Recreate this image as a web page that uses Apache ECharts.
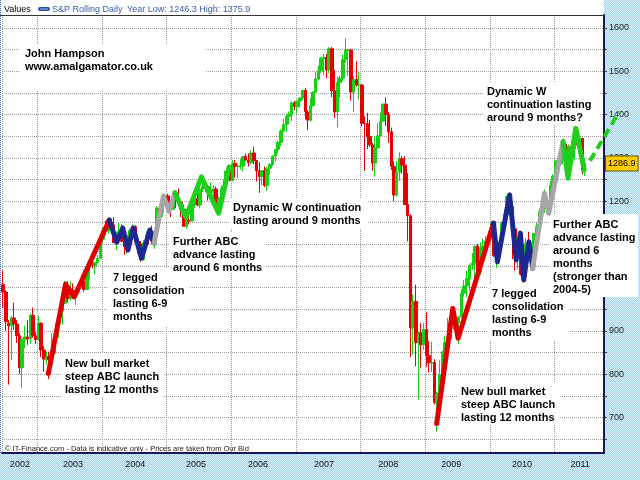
<!DOCTYPE html>
<html><head><meta charset="utf-8">
<script src="https://cdn.jsdelivr.net/npm/echarts@6/dist/echarts.min.js"></script>
<style>
html,body{margin:0;padding:0;}
#c{width:640px;height:480px;background:repeating-conic-gradient(#a3d3e8 0 25%, #dcf1f9 0 50%) 0 0/2px 2px;}
</style></head><body><div id="c"></div>
<script>
// ---- S&P Rolling Daily, half-month bars: [date, open, close, low, high] ----
const sp2002 = [
 ['2002-06-23',1007,990,953,1040],['2002-07-08',990,921,900,994],['2002-07-23',918,912,776,925],
 ['2002-08-08',912,930,833,935],['2002-08-23',930,916,902,965],['2002-09-08',916,889,872,925],
 ['2002-09-23',889,815,800,895],['2002-10-08',815,881,768,885],['2002-10-23',881,886,860,912],
 ['2002-11-08',886,882,868,925],['2002-11-23',882,936,870,941],['2002-12-08',936,889,884,954],
 ['2002-12-23',889,880,870,898]];
const sp2003 = [
 ['2003-01-08',880,918,877,935],['2003-01-23',918,856,840,920],['2003-02-08',856,835,806,865],
 ['2003-02-23',835,841,822,852],['2003-03-08',841,833,789,852],['2003-03-23',833,848,827,895],
 ['2003-04-08',848,885,847,887],['2003-04-23',885,917,878,919],['2003-05-08',917,946,911,947],
 ['2003-05-23',946,964,914,965],['2003-06-08',964,998,963,1015],['2003-06-23',998,975,966,1015],
 ['2003-07-08',975,994,970,1015],['2003-07-23',994,990,974,1010],['2003-08-08',990,990,960,995],
 ['2003-08-23',990,1008,985,1011],['2003-09-08',1008,1014,1005,1030],['2003-09-23',1014,996,990,1040],
 ['2003-10-08',996,1046,995,1053],['2003-10-23',1046,1051,1018,1053],['2003-11-08',1051,1050,1044,1063],
 ['2003-11-23',1050,1058,1031,1060],['2003-12-08',1058,1068,1056,1075],['2003-12-23',1068,1112,1066,1112]];
const sp2004 = [
 ['2004-01-08',1112,1132,1105,1140],['2004-01-23',1132,1131,1122,1155],['2004-02-08',1131,1146,1124,1158],
 ['2004-02-23',1146,1145,1138,1158],['2004-03-08',1145,1104,1103,1163],['2004-03-23',1104,1126,1087,1130],
 ['2004-04-08',1126,1129,1120,1150],['2004-04-23',1129,1107,1106,1146],['2004-05-08',1107,1095,1076,1128],
 ['2004-05-23',1095,1121,1078,1122],['2004-06-08',1121,1132,1119,1137],['2004-06-23',1132,1141,1127,1146],
 ['2004-07-08',1141,1106,1105,1144],['2004-07-23',1106,1101,1079,1108],['2004-08-08',1101,1065,1060,1108],
 ['2004-08-23',1065,1104,1063,1110],['2004-09-08',1104,1121,1100,1130],['2004-09-23',1121,1115,1101,1131],
 ['2004-10-08',1115,1108,1100,1143],['2004-10-23',1108,1130,1090,1131],['2004-11-08',1130,1184,1128,1188],
 ['2004-11-23',1184,1173,1166,1188],['2004-12-08',1173,1205,1163,1206],['2004-12-23',1205,1212,1194,1217]];
const sp2005 = [
 ['2005-01-08',1212,1184,1176,1217],['2005-01-23',1184,1181,1163,1195],['2005-02-08',1181,1210,1180,1212],
 ['2005-02-23',1210,1204,1184,1212],['2005-03-08',1204,1197,1190,1229],['2005-03-23',1197,1181,1163,1200],
 ['2005-04-08',1181,1142,1141,1192],['2005-04-23',1142,1156,1136,1163],['2005-05-08',1156,1154,1146,1178],
 ['2005-05-23',1154,1191,1153,1199],['2005-06-08',1191,1206,1185,1208],['2005-06-23',1206,1191,1188,1219],
 ['2005-07-08',1191,1227,1183,1229],['2005-07-23',1227,1234,1221,1245],['2005-08-08',1234,1233,1222,1245],
 ['2005-08-23',1233,1220,1201,1235],['2005-09-08',1220,1227,1218,1243],['2005-09-23',1227,1228,1205,1237],
 ['2005-10-08',1228,1187,1176,1234],['2005-10-23',1187,1207,1168,1210],['2005-11-08',1207,1229,1200,1237],
 ['2005-11-23',1229,1249,1226,1270],['2005-12-08',1249,1270,1245,1276],['2005-12-23',1270,1248,1246,1275]];
const sp2006 = [
 ['2006-01-08',1248,1287,1245,1295],['2006-01-23',1287,1280,1254,1295],['2006-02-08',1280,1281,1253,1286],
 ['2006-02-23',1281,1281,1273,1297],['2006-03-08',1281,1303,1268,1304],['2006-03-23',1303,1295,1293,1310],
 ['2006-04-08',1295,1289,1280,1310],['2006-04-23',1289,1311,1285,1318],['2006-05-08',1311,1294,1285,1326],
 ['2006-05-23',1294,1270,1245,1295],['2006-06-08',1270,1257,1219,1290],['2006-06-23',1257,1270,1237,1272],
 ['2006-07-08',1270,1236,1232,1280],['2006-07-23',1236,1276,1224,1280],['2006-08-08',1276,1285,1261,1287],
 ['2006-08-23',1285,1304,1281,1306],['2006-09-08',1304,1319,1291,1321],['2006-09-23',1319,1336,1310,1340],
 ['2006-10-08',1336,1362,1327,1366],['2006-10-23',1362,1377,1359,1390],['2006-11-08',1377,1396,1360,1401],
 ['2006-11-23',1396,1400,1377,1407],['2006-12-08',1400,1427,1385,1431],['2006-12-23',1427,1418,1410,1431]];
const sp2007 = [
 ['2007-01-08',1418,1431,1403,1432],['2007-01-23',1431,1438,1416,1441],['2007-02-08',1438,1456,1433,1457],
 ['2007-02-23',1456,1406,1389,1461],['2007-03-08',1406,1387,1364,1410],['2007-03-23',1387,1421,1384,1438],
 ['2007-04-08',1421,1452,1418,1453],['2007-04-23',1452,1482,1450,1498],['2007-05-08',1482,1501,1478,1513],
 ['2007-05-23',1501,1530,1496,1533],['2007-06-08',1530,1532,1490,1540],['2007-06-23',1532,1503,1484,1540],
 ['2007-07-08',1503,1552,1495,1556],['2007-07-23',1552,1455,1440,1556],['2007-08-08',1455,1406,1392,1503],
 ['2007-08-23',1406,1474,1370,1488],['2007-09-08',1474,1484,1439,1490],['2007-09-23',1484,1527,1476,1539],
 ['2007-10-08',1527,1548,1520,1576],['2007-10-23',1548,1549,1489,1552],['2007-11-08',1549,1452,1432,1552],
 ['2007-11-23',1452,1481,1406,1488],['2007-12-08',1481,1468,1464,1523],['2007-12-23',1468,1468,1435,1498]];
const sp2008 = [
 ['2008-01-08',1468,1380,1372,1471],['2008-01-23',1380,1379,1270,1396],['2008-02-08',1379,1349,1320,1404],
 ['2008-02-23',1349,1330,1325,1388],['2008-03-08',1330,1288,1270,1335],['2008-03-23',1288,1323,1256,1350],
 ['2008-04-08',1323,1351,1321,1380],['2008-04-23',1351,1385,1350,1404],['2008-05-08',1385,1424,1384,1426],
 ['2008-05-23',1424,1400,1373,1440],['2008-06-08',1400,1360,1335,1406],['2008-06-23',1360,1280,1272,1370],
 ['2008-07-08',1280,1214,1200,1292],['2008-07-23',1214,1267,1210,1292],['2008-08-08',1267,1298,1247,1313],
 ['2008-08-23',1298,1283,1263,1304],['2008-09-08',1283,1192,1192,1304],['2008-09-23',1192,1166,1107,1265],
 ['2008-10-08',1166,907,839,1170],['2008-10-23',907,968,845,985],['2008-11-08',968,873,818,1007],
 ['2008-11-23',873,896,741,900],['2008-12-08',896,868,815,918],['2008-12-23',868,903,857,919]];
const sp2009 = [
 ['2009-01-08',903,843,817,943],['2009-01-23',843,826,804,877],['2009-02-08',826,827,805,875],
 ['2009-02-23',827,735,730,835],['2009-03-08',735,756,667,760],['2009-03-23',756,798,753,832],
 ['2009-04-08',798,852,783,853],['2009-04-23',852,873,826,888],['2009-05-08',873,882,866,930],
 ['2009-05-23',882,919,879,925],['2009-06-08',919,923,904,956],['2009-06-23',923,919,888,933],
 ['2009-07-08',919,932,869,935],['2009-07-23',932,987,930,996],['2009-08-08',987,1004,979,1018],
 ['2009-08-23',1004,1021,978,1039],['2009-09-08',1021,1052,992,1056],['2009-09-23',1052,1057,1041,1080],
 ['2009-10-08',1057,1096,1020,1097],['2009-10-23',1096,1036,1033,1101],['2009-11-08',1036,1093,1029,1105],
 ['2009-11-23',1093,1096,1085,1113],['2009-12-08',1096,1107,1086,1119],['2009-12-23',1107,1115,1094,1130]];
const sp2010 = [
 ['2010-01-08',1115,1136,1108,1150],['2010-01-23',1136,1074,1071,1150],['2010-02-08',1074,1075,1045,1104],
 ['2010-02-23',1075,1104,1070,1112],['2010-03-08',1104,1150,1100,1153],['2010-03-23',1150,1169,1148,1181],
 ['2010-04-08',1169,1211,1165,1213],['2010-04-23',1211,1187,1181,1220],['2010-05-08',1187,1136,1066,1188],
 ['2010-05-23',1136,1089,1040,1150],['2010-06-08',1089,1115,1042,1116],['2010-06-23',1115,1031,1028,1131],
 ['2010-07-08',1031,1096,1011,1100],['2010-07-23',1096,1102,1056,1115],['2010-08-08',1102,1079,1074,1129],
 ['2010-08-23',1079,1049,1040,1095],['2010-09-08',1049,1125,1047,1126],['2010-09-23',1125,1141,1122,1149],
 ['2010-10-08',1141,1176,1132,1182],['2010-10-23',1176,1183,1160,1196],['2010-11-08',1183,1197,1173,1227],
 ['2010-11-23',1197,1181,1174,1207],['2010-12-08',1181,1236,1173,1246],['2010-12-23',1236,1258,1233,1262]];
const sp2011 = [
 ['2011-01-08',1258,1293,1257,1294],['2011-01-23',1293,1286,1271,1303],['2011-02-08',1286,1328,1285,1332],
 ['2011-02-23',1328,1327,1294,1344],['2011-03-08',1327,1281,1261,1332],['2011-03-23',1281,1326,1249,1331],
 ['2011-04-08',1326,1320,1309,1339],['2011-04-23',1320,1364,1294,1365],['2011-05-08',1364,1338,1329,1371],
 ['2011-05-23',1338,1345,1311,1346],['2011-06-08',1345,1271,1262,1346],['2011-06-19',1271,1287,1258,1298]];
const lastPrice = 1286.9;

// ---- hand-drawn wave annotations: [date, level] ----
const abcLaunch2003 = [['2003-03-05',802],['2003-06-10',1008],['2003-07-30',979],['2004-02-12',1156]];
const consol2004 = [['2004-02-12',1156],['2004-03-25',1105],['2004-04-28',1138],['2004-05-27',1087],
  ['2004-06-26',1138],['2004-08-12',1068],['2004-09-28',1133],['2004-10-22',1103]];
const advance2004 = [['2004-10-22',1103],['2004-12-14',1212],['2005-01-14',1177],['2005-02-17',1219]];
const wave2005 = [['2005-02-17',1219],['2005-04-20',1163],['2005-07-16',1256],['2005-10-22',1172],['2005-12-20',1279]];
const abcLaunch2009 = [['2009-03-06',686],['2009-06-05',952],['2009-07-05',883],['2010-01-21',1149]];
const consol2010 = [['2010-01-21',1149],['2010-02-12',1060],['2010-04-22',1214],['2010-05-29',1064],
  ['2010-06-22',1126],['2010-07-11',1018],['2010-08-09',1106],['2010-08-30',1045]];
const advance2010 = [['2010-08-30',1045],['2010-11-05',1218],['2010-11-29',1172],['2011-02-18',1337]];
const wave2011 = [['2011-02-18',1337],['2011-03-18',1253],['2011-05-01',1368],['2011-06-17',1272]];
const projection2011 = [['2011-07-20',1293],['2012-01-01',1407]];

// ---- axis ticks / labels ----
const yLabelValues = [700,800,900,1000,1100,1200,1300,1400,1500,1600];
const yTickValues = [650,700,750,800,850,900,950,1000,1050,1100,1150,1200,1250,1300,1350,1400,1450,1500,1550,1600];
const yearLabels = ['2002','2003','2004','2005','2006','2007','2008','2009','2010','2011'];
const yearLabelDates = ['2002-09-25','2003-07-22','2004-07-07','2005-06-16','2006-06-01','2007-06-09',
  '2008-06-05','2009-05-27','2010-07-01','2011-05-25'];
const xMin = '2002-06-16', xMax = '2011-10-07';

const FF = '"Liberation Sans", Arial, Helvetica, sans-serif';
const DAY = 24*3600*1000;
const candles = [].concat(sp2002, sp2003, sp2004, sp2005, sp2006, sp2007, sp2008, sp2009, sp2010, sp2011);
const yearLabelTs = yearLabelDates.map(function (d) { return +new Date(d); });

function wave(data, color, extra) {
  return Object.assign({
    type: 'line', data: data, symbol: 'none', silent: true, z: 4, animation: false,
    lineStyle: { color: color, width: 5, cap: 'round', join: 'round' }
  }, extra || {});
}

const notes = [
  { x: 25, y: 47, t: 'John Hampson\nwww.amalgamator.co.uk', box: [20, 45, 186, 45] },
  { x: 65, y: 357, t: 'New bull market\nsteep ABC launch\nlasting 12 months', box: [61, 353, 102, 44] },
  { x: 113, y: 271, t: '7 legged\nconsolidation\nlasting 6-9\nmonths', box: [108, 268, 82, 58] },
  { x: 173, y: 235, t: 'Further ABC\nadvance lasting\naround 6 months', box: [169, 232, 97, 41] },
  { x: 233, y: 201, t: 'Dynamic W continuation\nlasting around 9 months', box: [229, 198, 138, 30] },
  { x: 487, y: 85, t: 'Dynamic W\ncontinuation lasting\naround 9 months?', box: [483, 82, 117, 42] },
  { x: 553, y: 218, t: 'Further ABC\nadvance lasting\naround 6\nmonths\n(stronger than\n2004-5)', box: [549, 214, 89, 83] },
  { x: 492, y: 287, t: '7 legged\nconsolidation\nlasting 6-9\nmonths', box: [488, 284, 82, 56] },
  { x: 461, y: 385, t: 'New bull market\nsteep ABC launch\nlasting 12 months', box: [457, 382, 103, 43] }
];

const graphics = [
  { type: 'rect', z: -5, shape: { x: 0, y: 0, width: 604, height: 454 }, style: { fill: '#ffffff' } },
  { type: 'line', z: 5, shape: { x1: 0.5, y1: 0, x2: 0.5, y2: 454 }, style: { stroke: '#3f66cc', lineWidth: 1, lineDash: [1, 1] } },
  { type: 'line', z: 5, shape: { x1: 0, y1: 15.5, x2: 604, y2: 15.5 }, style: { stroke: '#333333', lineWidth: 1 } },
  { type: 'text', z: 50, x: 4, y: 10, style: { text: 'Values', fill: '#000', fontSize: 9, fontFamily: FF, verticalAlign: 'middle' } },
  { type: 'rect', z: 50, shape: { x: 38, y: 7, width: 12, height: 4, r: 2 }, style: { fill: '#2d4fa8' } },
  { type: 'line', z: 51, shape: { x1: 40, y1: 9, x2: 48, y2: 9 }, style: { stroke: '#9fb4e8', lineWidth: 1 } },
  { type: 'text', z: 50, x: 52, y: 10, style: { text: 'S&P Rolling Daily', fill: '#3a5aa8', fontSize: 9, fontFamily: FF, verticalAlign: 'middle' } },
  { type: 'text', z: 50, x: 127, y: 10, style: { text: 'Year Low: 1246.3 High: 1375.9', fill: '#3a5aa8', fontSize: 9, fontFamily: FF, verticalAlign: 'middle' } },
  { type: 'text', z: 50, x: 5, y: 449, style: { text: '\u00a9 IT-Finance.com - Data is indicative only - Prices are taken from Our Bid', fill: '#222', fontSize: 7.5, fontFamily: FF, verticalAlign: 'middle' } }
];
notes.forEach(function (n) {
  graphics.push({ type: 'rect', z: 1, shape: { x: n.box[0], y: n.box[1], width: n.box[2], height: n.box[3] }, style: { fill: '#ffffff' } });
  graphics.push({ type: 'text', z: 60, x: n.x, y: n.y, style: { text: n.t, fill: '#000', fontSize: 11, fontWeight: 'bold', fontFamily: FF, lineHeight: 13, verticalAlign: 'top', align: 'left' } });
});

const chart = echarts.init(document.getElementById('c'), null, { renderer: 'canvas', width: 640, height: 480 });
const option = {
  animation: false,
  backgroundColor: 'transparent',
  grid: { left: 2, right: 36, top: 15, bottom: 27, show: false },
  xAxis: [
    {
      type: 'time', min: xMin, max: xMax,
      splitNumber: 9, minInterval: 360 * DAY, maxInterval: 370 * DAY,
      axisLine: { show: true, onZero: false, lineStyle: { color: '#16165e', width: 2 } },
      axisTick: { show: false },
      axisLabel: { show: false },
      splitLine: { show: true, lineStyle: { color: '#9a9a9a', type: 'dotted', width: 1 } }
    },
    {
      type: 'value', min: +new Date(xMin), max: +new Date(xMax), position: 'bottom',
      axisLine: { show: false }, axisTick: { show: false }, splitLine: { show: false },
      axisLabel: {
        customValues: yearLabelTs,
        formatter: function (v) { return yearLabels[yearLabelTs.indexOf(v)] || ''; },
        fontSize: 9, color: '#111', fontFamily: FF, margin: 7
      }
    }
  ],
  yAxis: {
    type: 'value', position: 'right', min: 618, max: 1630, splitNumber: 10,
    axisLine: { show: true, lineStyle: { color: '#16165e', width: 2 } },
    axisTick: { show: true, customValues: yTickValues, length: 3, lineStyle: { color: '#333' } },
    axisLabel: { customValues: yLabelValues, formatter: function (v) { return String(v); }, fontSize: 9, color: '#222', fontFamily: FF, margin: 5 },
    splitLine: { show: true, lineStyle: { color: '#9a9a9a', type: 'dotted', width: 1 } }
  },
  series: [
    {
      type: 'candlestick', data: candles, barWidth: 3, z: 2,
      itemStyle: { color: '#12d212', color0: '#e60000', borderColor: '#12d212', borderColor0: '#e60000', borderWidth: 1 },
      markLine: {
        silent: true, symbol: 'none', animation: false,
        data: [{ yAxis: lastPrice }],
        lineStyle: { width: 0, color: 'rgba(0,0,0,0)' },
        label: {
          show: true, position: 'end', distance: 2, formatter: String(lastPrice),
          backgroundColor: '#ffcc00', borderColor: '#6b5200', borderWidth: 1,
          padding: [3, 2, 2, 2], color: '#000', fontSize: 9, fontFamily: FF
        }
      }
    },
    wave(abcLaunch2003, '#e00000'),
    wave(consol2004, '#1c2890'),
    wave(advance2004, '#a6a6a6'),
    wave(wave2005, '#1ecf1e'),
    wave(abcLaunch2009, '#e00000'),
    wave(consol2010, '#1c2890'),
    wave(advance2010, '#a6a6a6'),
    wave(wave2011, '#1ecf1e')
  ],
  graphic: graphics
};
chart.setOption(option);

// projection (dashed) runs past the plot edge, so it is drawn unclipped from the axis scale
const projPts = projection2011.map(function (p) {
  return chart.convertToPixel({ xAxisIndex: 0, yAxisIndex: 0 }, [+new Date(p[0]), p[1]]);
});
graphics.push({ type: 'polyline', z: 70, shape: { points: projPts },
  style: { stroke: '#1ecf1e', lineWidth: 4, lineDash: [9, 5], fill: null } });
chart.setOption({ graphic: graphics });
</script>
</body></html>
